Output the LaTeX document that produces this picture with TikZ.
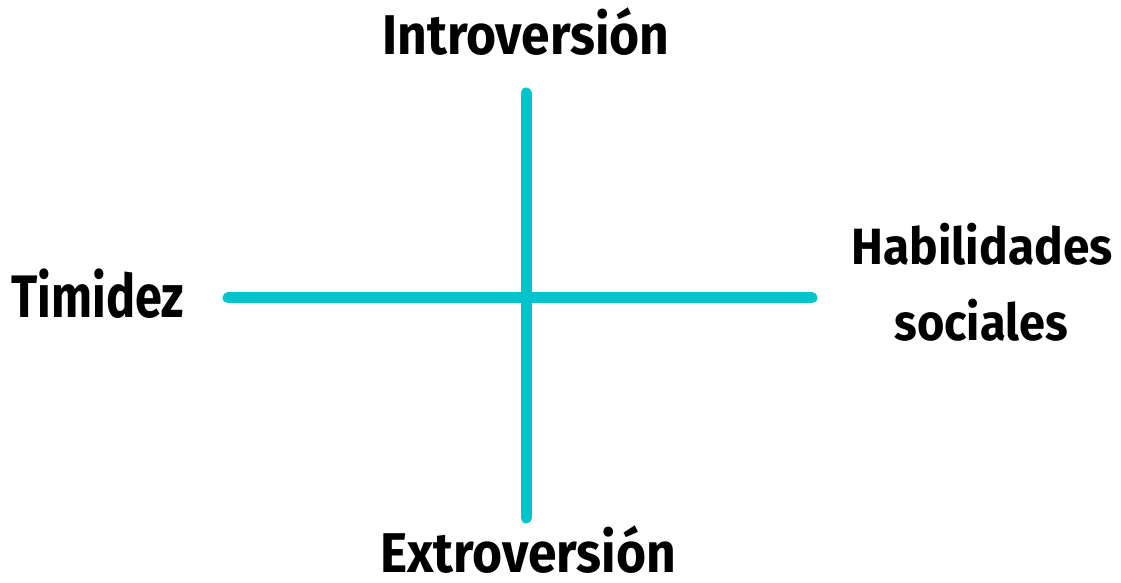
\documentclass[tikz,border=0pt]{standalone}
\usepackage{fontspec}
\setmainfont{Fira Sans}
\definecolor{turquesa}{HTML}{00C4CC}
\tikzset{
  eje/.style={line width=11pt, line cap=round, turquesa},
  etiqueta/.style={anchor=base, font=\bfseries\fontsize{56}{60}\selectfont, inner sep=0pt, xscale=0.92}
}
\begin{document}
\begin{tikzpicture}[x=1pt, y=1pt]
  \useasboundingbox (0,0) rectangle (1121,583);

  % ejes
  \coordinate (arriba) at (526,490);
  \coordinate (abajo) at (526,65);
  \coordinate (izq) at (228,285);
  \coordinate (der) at (812,285);
  \draw[eje] (arriba) -- (abajo);
  \draw[eje] (izq) -- (der);

  % etiquetas
  \node[etiqueta] (intro) at (526,528) {Introversión};
  \node[etiqueta] (extro) at (528,10) {Extroversión};
  \node[etiqueta, xscale=0.88, font=\bfseries\fontsize{60}{64}\selectfont] (timidez) at (98,265) {Timidez};
  \node[etiqueta, xscale=1.02, font=\bfseries\fontsize{51}{55}\selectfont] (habil) at (982,318) {Habilidades};
  \node[etiqueta, font=\bfseries\fontsize{51}{55}\selectfont] (social) at (981,242) {sociales};
\end{tikzpicture}
\end{document}
